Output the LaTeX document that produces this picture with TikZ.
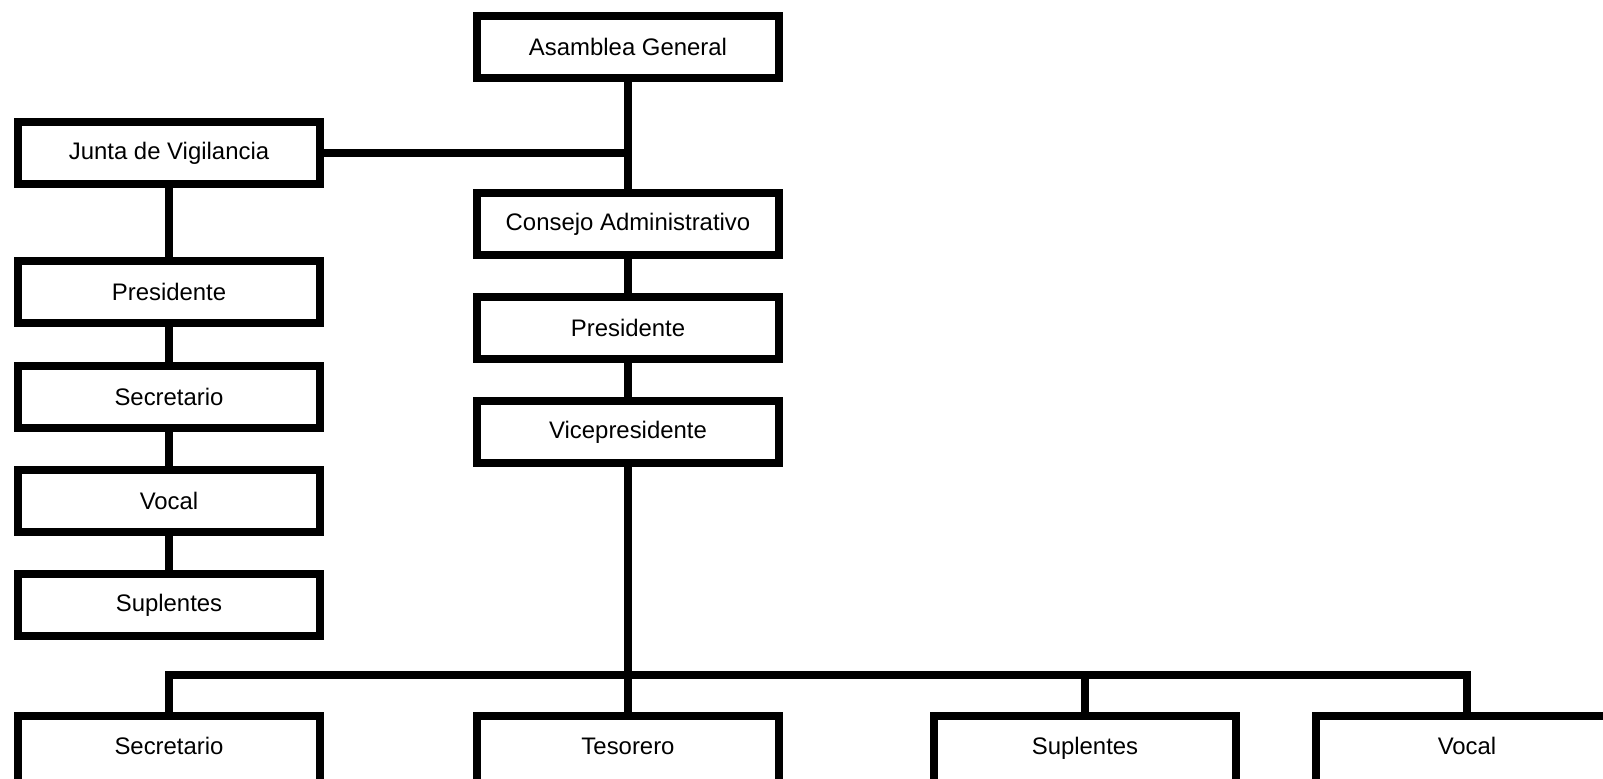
\documentclass[tikz,border=0pt]{standalone}
\usepackage{fontspec}
\setmainfont{Liberation Sans}
\usepackage{tikz}

\begin{document}
\begin{tikzpicture}[x=0.01cm,y=-0.01cm,
    cargo/.style={draw,line width=0.08cm,minimum width=3.01cm,minimum height=0.62cm,inner sep=0pt,font=\fontsize{6.8}{8}\selectfont},
    fila/.style={cargo,anchor=north,text height=0.31cm,text depth=0.5cm,inner ysep=0.07cm},
    enlace/.style={line width=0.08cm}]
    \useasboundingbox (0,0) rectangle (1603,779);
    % organo principal
    \node[cargo] (asamblea) at (628,47) {Asamblea General};
    \node[cargo] (consejo) at (628,224) {Consejo Administrativo};
    \node[cargo] (presC) at (628,328) {Presidente};
    \node[cargo] (vice) at (628,432) {Vicepresidente};
    % junta de vigilancia
    \node[cargo] (junta) at (169,153) {Junta de Vigilancia};
    \node[cargo] (presJ) at (169,292) {Presidente};
    \node[cargo] (secJ) at (169,397) {Secretario};
    \node[cargo] (vocJ) at (169,501) {Vocal};
    \node[cargo] (supJ) at (169,605) {Suplentes};
    % fila inferior
    \node[fila] (secC) at (169,712) {Secretario};
    \node[fila] (tesC) at (628,712) {Tesorero};
    \node[fila] (supC) at (1085,712) {Suplentes};
    \node[fila] (vocC) at (1467,712) {Vocal};
    \coordinate (bus) at (628,675);

    \draw[enlace] (asamblea) -- (consejo); \draw[enlace] (consejo) -- (presC); \draw[enlace] (presC) -- (vice);
    \draw[enlace] (junta.east) -- (junta.east -| asamblea.south);
    \draw[enlace] (junta) -- (presJ); \draw[enlace] (presJ) -- (secJ); \draw[enlace] (secJ) -- (vocJ); \draw[enlace] (vocJ) -- (supJ);
    \draw[enlace] (vice) -- (tesC);
    \draw[enlace] (secC.north) -- (secC.north |- bus) -- (vocC.north |- bus) -- (vocC.north);
    \draw[enlace] (supC.north) -- (supC.north |- bus);
\end{tikzpicture}
\end{document}
